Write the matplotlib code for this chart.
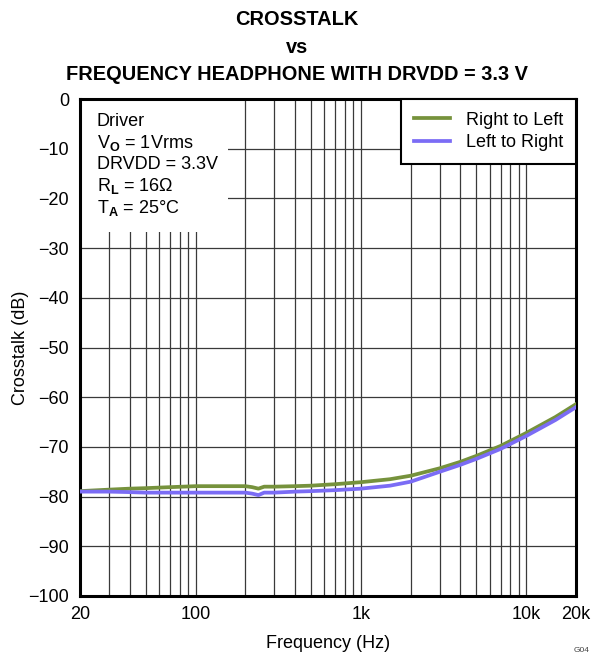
import matplotlib
matplotlib.use("Agg")
import matplotlib.pyplot as plt
from matplotlib.patches import Rectangle
from matplotlib.ticker import FixedLocator, FixedFormatter, NullFormatter

plt.rcParams['font.family'] = ['Liberation Sans', 'DejaVu Sans']
plt.rcParams['mathtext.fontset'] = 'custom'
plt.rcParams['mathtext.rm'] = 'Liberation Sans'
plt.rcParams['mathtext.bf'] = 'Liberation Sans:bold'

# data
freq = [20, 30, 40, 50, 70, 100, 150, 200, 220, 240, 260, 300, 400, 500, 700,
        1000, 1500, 2000, 3000, 4000, 5000, 7000, 10000, 15000, 20000]
right_to_left = [-78.9, -78.6, -78.4, -78.3, -78.1, -77.9, -77.9, -77.9, -78.1, -78.4,
                 -78.0, -78.0, -77.9, -77.8, -77.5, -77.1, -76.5, -75.8, -74.3, -73.0,
                 -71.8, -69.8, -67.2, -64.0, -61.4]
left_to_right = [-79.0, -79.0, -79.1, -79.2, -79.2, -79.2, -79.2, -79.2, -79.4, -79.7,
                 -79.2, -79.2, -79.0, -78.9, -78.7, -78.4, -77.8, -77.0, -75.0, -73.6,
                 -72.4, -70.4, -67.8, -64.6, -62.0]
x_ticks = [20, 100, 1000, 10000, 20000]
x_tick_labels = ['20', '100', '1k', '10k', '20k']
minor_ticks = [30, 40, 50, 60, 70, 80, 90, 200, 300, 400, 500, 600, 700, 800, 900,
               2000, 3000, 4000, 5000, 6000, 7000, 8000, 9000]
y_ticks = list(range(-100, 1, 10))

fig = plt.figure(figsize=(5.93, 6.59), dpi=100)
ax = fig.add_axes([80 / 593, 1 - 596 / 659, 496 / 593, 497 / 659])

ax.plot(freq, right_to_left, color='#76923c', lw=2.7, label='Right to Left', zorder=3)
ax.plot(freq, left_to_right, color='#7b6cf5', lw=2.7, label='Left to Right', zorder=4)

ax.set_xscale('log')
ax.set_xlim(20, 20000)
ax.set_ylim(-100, 0)
ax.xaxis.set_major_locator(FixedLocator(x_ticks))
ax.xaxis.set_major_formatter(FixedFormatter(x_tick_labels))
ax.xaxis.set_minor_locator(FixedLocator(minor_ticks))
ax.xaxis.set_minor_formatter(NullFormatter())
ax.set_yticks(y_ticks)
ax.set_yticklabels([str(v).replace('-', '\u2212') for v in y_ticks])
ax.tick_params(which='both', length=0, labelsize=13)
ax.tick_params(axis='y', pad=8)
ax.tick_params(axis='x', pad=7)
ax.grid(True, which='both', color='#3a3a3a', lw=0.9)

for s in ax.spines.values():
    s.set_linewidth(2.2)

ax.set_xlabel('Frequency (Hz)', fontsize=13, labelpad=9)
ax.set_ylabel('Crosstalk (dB)', fontsize=13)
ax.yaxis.set_label_coords(-0.103, 0.5)
# title is centred on the figure, not the axes
ax.set_title('CROSSTALK\nvs\nFREQUENCY HEADPHONE WITH DRVDD = 3.3 V', x=0.4375,
             fontsize=14.4, fontweight='bold', linespacing=1.57, pad=13.5)

# white area behind the conditions text
ax.add_patch(Rectangle((0, 1 - 133 / 497), 148 / 496, 133 / 497, transform=ax.transAxes,
                       facecolor='white', edgecolor='none', zorder=2))
cond = ['Driver', r'V$_\mathbf{O}$ = 1Vrms', 'DRVDD = 3.3V',
        r'R$_\mathbf{L}$ = 16$\Omega$', r'T$_\mathbf{A}$ = 25°C']
for i, line in enumerate(cond):
    ax.text(17 / 496, 1 - (22.5 + 21.6 * i) / 497, line, transform=ax.transAxes,
            fontsize=13, va='center', ha='left', zorder=5)

leg = ax.legend(loc='upper right', fontsize=13, fancybox=False, framealpha=1,
                edgecolor='black', borderaxespad=0, handlelength=2.0,
                borderpad=0.7, labelspacing=0.3, handletextpad=0.9)
leg.get_frame().set_linewidth(1.5)
leg.set_zorder(6)

fig.text(590 / 593, 1 - 650 / 659, 'G04', fontsize=6, ha='right', va='center', color='#444444')

fig.savefig('out.png', dpi=100)
